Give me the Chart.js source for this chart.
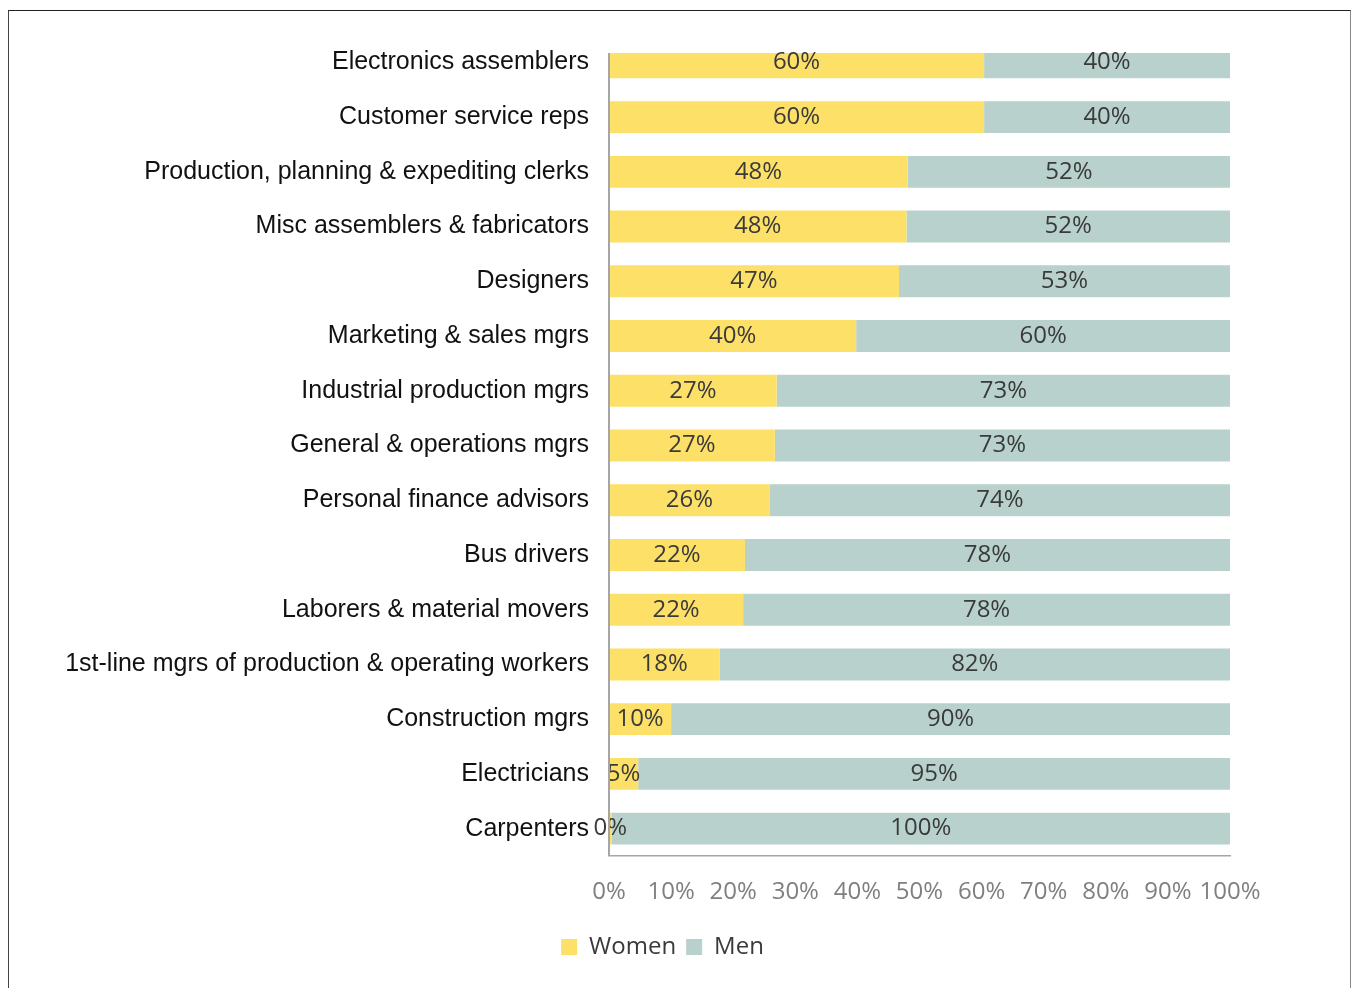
<!DOCTYPE html>
<html>
<head>
<meta charset="utf-8">
<script src="https://cdn.jsdelivr.net/npm/chart.js@4"></script>
<style>
  body { margin: 0; background: #fff; }
  #wrap { position: relative; width: 1351px; height: 988px; overflow: hidden; }
  #frame { position: absolute; left: 8px; top: 10px; width: 1341px; height: 1000px;
           border-top: 1.5px solid #222; border-left: 1px solid #444; border-right: 1px solid #888; }
  canvas { position: absolute; left: 0; top: 0; }
</style>
</head>
<body>
<div id="wrap">
  <canvas id="chart_jobs" width="1351" height="988"></canvas>
  <div id="frame"></div>
</div>
<script>
var occupations = [
  'Electronics assemblers',
  'Customer service reps',
  'Production, planning & expediting clerks',
  'Misc assemblers & fabricators',
  'Designers',
  'Marketing & sales mgrs',
  'Industrial production mgrs',
  'General & operations mgrs',
  'Personal finance advisors',
  'Bus drivers',
  'Laborers & material movers',
  '1st-line mgrs of production & operating workers',
  'Construction mgrs',
  'Electricians',
  'Carpenters'
];
var women = [60.4, 60.4, 48.1, 47.9, 46.7, 39.8, 27.0, 26.7, 25.9, 21.9, 21.6, 17.8, 10.0, 4.7, 0.4];
var men   = [39.6, 39.6, 51.9, 52.1, 53.3, 60.2, 73.0, 73.3, 74.1, 78.1, 78.4, 82.2, 90.0, 95.3, 99.6];
var xTicks = [0, 10, 20, 30, 40, 50, 60, 70, 80, 90, 100];

var pctFont = '"Open Sans", sans-serif';

// labels inside each bar piece + the left axis line (starts below the clipped top)
var barLabels = {
  id: 'barLabels',
  afterLayout: function(chart) {
    // legend sits a bit right of the canvas centre in the original
    chart.legend.left += 43;
    chart.legend.right += 43;
  },
  afterDatasetsDraw: function(chart) {
    var ctx = chart.ctx, area = chart.chartArea;
    ctx.save();
    ctx.font = '24px ' + pctFont;
    ctx.fillStyle = '#3a3a3a';
    ctx.textAlign = 'center';
    ctx.textBaseline = 'middle';
    chart.data.datasets.forEach(function(ds, i) {
      chart.getDatasetMeta(i).data.forEach(function(bar, j) {
        var cx = (bar.x + bar.base) / 2;
        ctx.fillText(Math.round(ds.data[j]) + '%', cx, bar.y);
      });
    });
    var x0 = chart.scales.x.getPixelForValue(0);
    ctx.strokeStyle = '#a6a6a6';
    ctx.lineWidth = 2;
    ctx.beginPath();
    ctx.moveTo(x0, area.top + 18);
    ctx.lineTo(x0, area.bottom);
    ctx.stroke();
    ctx.restore();
  }
};

new Chart(document.getElementById('chart_jobs'), {
  type: 'bar',
  data: {
    labels: occupations,
    datasets: [{
      label: 'Women',
      data: women,
      backgroundColor: '#fde068',
      barPercentage: 0.583,
      categoryPercentage: 1,
      clip: {left: 2, top: -18, right: 0, bottom: 0}
    }, {
      label: 'Men',
      data: men,
      backgroundColor: '#b8d1cc',
      barPercentage: 0.583,
      categoryPercentage: 1,
      clip: {left: 0, top: -18, right: 0, bottom: 0}
    }]
  },
  options: {
    indexAxis: 'y',
    responsive: false,
    animation: false,
    layout: { padding: { left: 9, right: 121, top: 33, bottom: 19 } },
    scales: {
      x: {
        stacked: true,
        min: 0,
        max: 100,
        afterBuildTicks: function(scale) {
          scale.ticks = xTicks.map(function(v) { return {value: v}; });
        },
        afterFit: function(scale) { scale.height = 69; },
        grid: { display: false, drawTicks: false },
        border: { display: true, color: '#a6a6a6', width: 1.5 },
        ticks: {
          padding: 22,
          color: '#7f7f7f',
          font: { family: pctFont, size: 24 },
          maxRotation: 0,
          autoSkip: false,
          callback: function(v) { return v + '%'; }
        }
      },
      y: {
        stacked: true,
        afterFit: function(scale) { scale.width = 600; },
        grid: { display: false, drawTicks: false },
        border: { display: false },
        ticks: {
          padding: 20,
          color: '#111',
          autoSkip: false,
          font: { family: '"Liberation Sans", Arial, sans-serif', size: 25 }
        }
      }
    },
    plugins: {
      legend: {
        position: 'bottom',
        labels: {
          boxWidth: 16,
          boxHeight: 16,
          padding: 10,
          color: '#3a3a3a',
          font: { family: pctFont, size: 24 }
        }
      },
      tooltip: { enabled: false }
    }
  },
  plugins: [barLabels]
});
</script>
</body>
</html>
